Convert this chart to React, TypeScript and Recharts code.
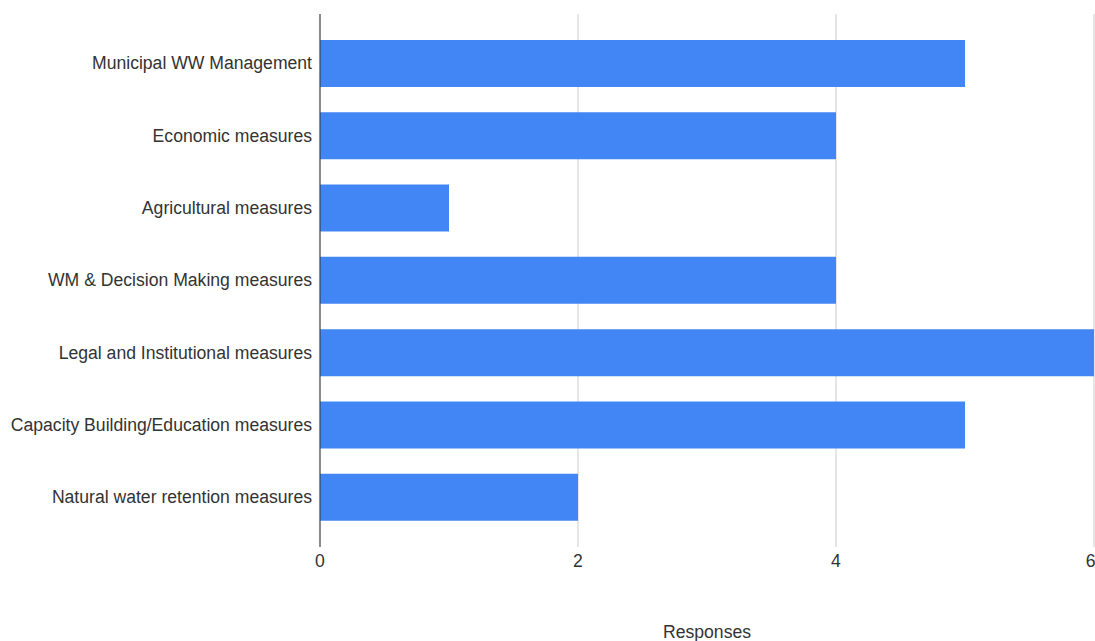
import { Bar, BarChart, CartesianGrid, XAxis, YAxis } from "recharts";

const categories = [
  "Municipal WW Management",
  "Economic measures",
  "Agricultural measures",
  "WM & Decision Making measures",
  "Legal and Institutional measures",
  "Capacity Building/Education measures",
  "Natural water retention measures",
];
const responses = [5, 4, 1, 4, 6, 5, 2];
const xTicks = [0, 2, 4, 6];

const data = categories.map((name, i) => ({ name, value: responses[i] }));

const font = "'Liberation Sans', Arial, sans-serif";
const tickStyle = { fill: "#333", fontSize: 17.6, fontFamily: font };

export default function App() {
  return (
    <div style={{ position: "absolute", left: 0, top: 0, background: "#fff" }}>
      <BarChart
        width={1095}
        height={641}
        data={data}
        layout="vertical"
        margin={{ top: 14, right: 1, bottom: 0, left: 0 }}
      >
        <CartesianGrid horizontal={false} stroke="#ccc" />
        <XAxis
          type="number"
          domain={[0, 6]}
          ticks={xTicks}
          axisLine={false}
          tickLine={false}
          height={94}
          tick={tickStyle}
          label={{
            value: "Responses",
            position: "insideBottom",
            offset: 3,
            fill: "#333",
            fontSize: 17.6,
            fontFamily: font,
          }}
        />
        <YAxis
          type="category"
          dataKey="name"
          width={320}
          tickLine={false}
          axisLine={{ stroke: "#333" }}
          padding={{ top: 13, bottom: 14 }}
          tick={tickStyle}
          interval={0}
        />
        <Bar dataKey="value" fill="#4285f4" barSize={47} isAnimationActive={false} />
      </BarChart>
    </div>
  );
}
